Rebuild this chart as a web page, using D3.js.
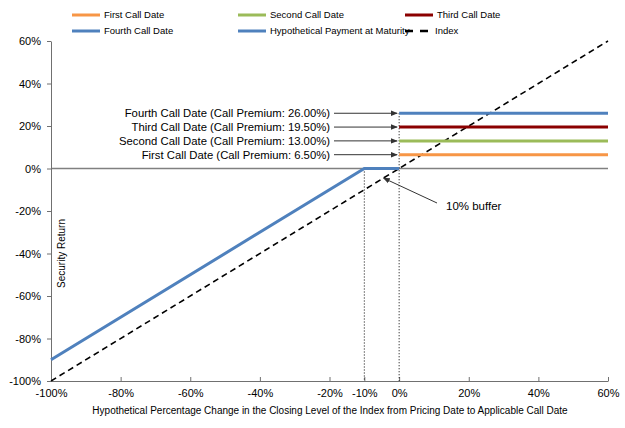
<!DOCTYPE html>
<html>
<head>
<meta charset="utf-8">
<script src="https://cdn.jsdelivr.net/npm/d3@7"></script>
<style>
  body { margin: 0; background: #fff; }
  text { font-family: "Liberation Sans", Arial, sans-serif; fill: #000; }
</style>
</head>
<body>
<div id="chart"></div>
<script>
// data
const xTicks = [-100, -80, -60, -40, -20, -10, 0, 20, 40, 60];
const yTicks = [-100, -80, -60, -40, -20, 0, 20, 40, 60];
const paymentX = [-100, -10, 0];
const paymentY = [-90, 0, 0];
const indexX = [-100, 60];
const indexY = [-100, 60];
const callNames = ["First Call Date", "Second Call Date", "Third Call Date", "Fourth Call Date"];
const callPremiums = [6.5, 13.0, 19.5, 26.0];
const callColors = ["#F79646", "#9BBB59", "#8B0000", "#4F81BD"];
const bufferLevel = -10;

const width = 625, height = 428;
const margin = {top: 41, right: 17, bottom: 47, left: 51};

const svg = d3.select("#chart").append("svg")
    .attr("width", width)
    .attr("height", height);

const x = d3.scaleLinear().domain([-100, 60]).range([margin.left, width - margin.right]);
const y = d3.scaleLinear().domain([-100, 60]).range([height - margin.bottom, margin.top]);
const pct = d => d + "%";

svg.append("defs").append("marker")
    .attr("id", "arrow")
    .attr("viewBox", "0 0 10 10")
    .attr("refX", 9).attr("refY", 5)
    .attr("markerWidth", 7).attr("markerHeight", 7)
    .attr("orient", "auto")
    .append("path")
    .attr("d", "M0,1 L10,5 L0,9 Z")
    .attr("fill", "#333");

// zero line
svg.append("line")
    .attr("x1", x(-100)).attr("x2", x(60))
    .attr("y1", y(0)).attr("y2", y(0))
    .attr("stroke", "#808080").attr("stroke-width", 1.5);

// axes
const xAxis = svg.append("g")
    .attr("transform", `translate(0,${y(-100)})`)
    .call(d3.axisBottom(x).tickValues(xTicks).tickFormat(pct).tickSize(-4).tickPadding(8).tickSizeOuter(0));
xAxis.selectAll("text").attr("font-size", 11);

const yAxis = svg.append("g")
    .attr("transform", `translate(${x(-100)},0)`)
    .call(d3.axisLeft(y).tickValues(yTicks).tickFormat(pct).tickSize(4).tickPadding(6).tickSizeOuter(0));
yAxis.selectAll("text").attr("font-size", 11);
svg.selectAll(".domain, .tick line").attr("stroke", "#707070");

// dotted verticals
svg.append("line")
    .attr("x1", x(bufferLevel)).attr("x2", x(bufferLevel))
    .attr("y1", y(0)).attr("y2", y(-100))
    .attr("stroke", "#000").attr("stroke-dasharray", "1,2");
svg.append("line")
    .attr("x1", x(0)).attr("x2", x(0))
    .attr("y1", y(d3.max(callPremiums))).attr("y2", y(-100))
    .attr("stroke", "#000").attr("stroke-dasharray", "1,2");

// index line
const line = d3.line().x(d => x(d[0])).y(d => y(d[1]));
svg.append("path")
    .attr("d", line(d3.zip(indexX, indexY)))
    .attr("fill", "none").attr("stroke", "#000")
    .attr("stroke-width", 1.6).attr("stroke-dasharray", "6,4");

// payment at maturity
svg.append("path")
    .attr("d", line(d3.zip(paymentX, paymentY)))
    .attr("fill", "none").attr("stroke", "#4F81BD").attr("stroke-width", 3);

// call date lines
callPremiums.forEach((p, i) => {
    svg.append("line")
        .attr("x1", x(0)).attr("x2", x(60))
        .attr("y1", y(p)).attr("y2", y(p))
        .attr("stroke", callColors[i]).attr("stroke-width", 3);
    svg.append("line")
        .attr("x1", 334).attr("x2", x(0) - 2)
        .attr("y1", y(p)).attr("y2", y(p))
        .attr("stroke", "#333").attr("stroke-width", 1)
        .attr("marker-end", "url(#arrow)");
    svg.append("text")
        .attr("x", 330).attr("y", y(p))
        .attr("dy", "0.35em")
        .attr("text-anchor", "end")
        .attr("font-size", 11.3)
        .text(`${callNames[i]} (Call Premium: ${p.toFixed(2)}%)`);
});

// buffer annotation
svg.append("line")
    .attr("x1", 437).attr("y1", 203)
    .attr("x2", x(-4.5)).attr("y2", y(-4.5))
    .attr("stroke", "#333").attr("stroke-width", 1)
    .attr("marker-end", "url(#arrow)");
svg.append("text")
    .attr("x", 446).attr("y", 206)
    .attr("dy", "0.35em")
    .attr("font-size", 11.5)
    .text("10% buffer");

// axis titles
svg.append("text")
    .attr("transform", `translate(65,${y(-40)}) rotate(-90)`)
    .attr("text-anchor", "middle")
    .attr("font-size", 10)
    .text("Security Return");
svg.append("text")
    .attr("x", 330).attr("y", 414)
    .attr("text-anchor", "middle")
    .attr("font-size", 10)
    .text("Hypothetical Percentage Change in the Closing Level of the Index from Pricing Date to Applicable Call Date");

// legend
const legendItems = [
    {name: callNames[0], color: callColors[0], lx: 72, ty: 15},
    {name: callNames[1], color: callColors[1], lx: 238, ty: 15},
    {name: callNames[2], color: callColors[2], lx: 405, ty: 15},
    {name: callNames[3], color: callColors[3], lx: 72, ty: 31},
    {name: "Hypothetical Payment at Maturity", color: "#4F81BD", lx: 238, ty: 31},
    {name: "Index", color: "#000", lx: 405, ty: 31, dash: true}
];
const lg = svg.append("g").selectAll("g").data(legendItems).join("g")
    .attr("transform", d => `translate(${d.lx},${d.ty})`);
lg.append("line")
    .attr("x1", 0).attr("x2", d => d.dash ? 24 : 28)
    .attr("stroke", d => d.color)
    .attr("stroke-width", d => d.dash ? 2.5 : 3)
    .attr("stroke-dasharray", d => d.dash ? "8,7" : null);
lg.append("text")
    .attr("x", d => d.dash ? 30 : 32)
    .attr("dy", "0.35em")
    .attr("font-size", 9.5)
    .text(d => d.name);
</script>
</body>
</html>
